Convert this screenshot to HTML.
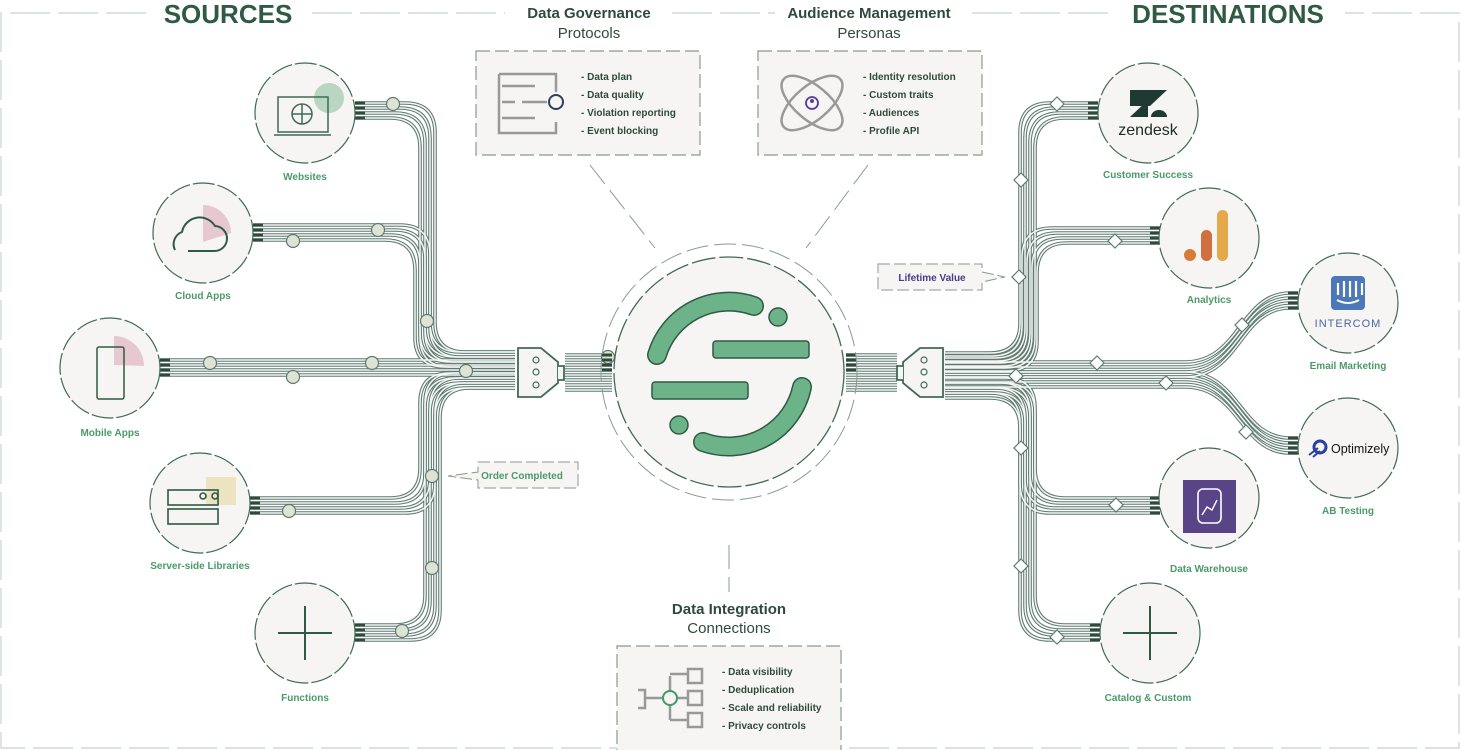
<!DOCTYPE html>
<html><head><meta charset="utf-8"><style>
body{margin:0;background:#fff;width:1461px;height:750px;overflow:hidden;font-family:"Liberation Sans",sans-serif}
svg{display:block}
.lbl{font:bold 10px "Liberation Sans",sans-serif;fill:#4a9a6a;text-anchor:middle}
.li{font:bold 10px "Liberation Sans",sans-serif;fill:#2f4a3a}
.ttl{font:bold 15px "Liberation Sans",sans-serif;fill:#2f4a3a;text-anchor:middle}
.sub{font:15px "Liberation Sans",sans-serif;fill:#2f4a3a;text-anchor:middle}
.big{font:bold 26px "Liberation Sans",sans-serif;fill:#2f5a43;text-anchor:middle}
.nd{fill:#f6f5f3;stroke:#3f6a55;stroke-width:1.2;stroke-dasharray:22 3}
</style></head><body>
<svg id="s" width="1461" height="750" viewBox="0 0 1461 750">
<g fill="none" stroke="#c8d2cc" stroke-width="1.2" stroke-dasharray="40 8">
<path d="M146,13 H1 V748 H1459 V13 H1345"/>
<path d="M312,13 H505"/><path d="M672,13 H775"/><path d="M972,13 H1113"/>
</g>
<text class="big" x="228" y="23">SOURCES</text>
<text class="big" x="1228" y="23">DESTINATIONS</text>
<text class="ttl" x="589" y="18">Data Governance</text><text class="sub" x="589" y="38">Protocols</text>
<text class="ttl" x="869" y="18">Audience Management</text><text class="sub" x="869" y="38">Personas</text>
<text class="ttl" x="729" y="614">Data Integration</text><text class="sub" x="729" y="633">Connections</text>
<g fill="#f6f5f3" stroke="#8a9a90" stroke-width="1.2" stroke-dasharray="14 5">
<rect x="476" y="51" width="224" height="104"/>
<rect x="758" y="51" width="224" height="104"/>
<rect x="617" y="646" width="224" height="110"/>
</g>
<g fill="none" stroke="#8a9a90" stroke-width="1" stroke-dasharray="24 8">
<path d="M590,165 L655,248"/><path d="M868,165 L806,248"/><path d="M729,545 V592"/>
</g>
<g fill="none" stroke="#999" stroke-width="2.5">
<path d="M499,74 V133 H556 V122 M499,74 H556 V92"/><path d="M502,86 H535 M502,102 H515 M522,102 H547 M502,118 H535"/>
</g><circle cx="556" cy="102" r="7" fill="none" stroke="#2e3e5e" stroke-width="2"/>
<text class="li" x="581" y="80">- Data plan</text><text class="li" x="581" y="98">- Data quality</text><text class="li" x="581" y="116">- Violation reporting</text><text class="li" x="581" y="134">- Event blocking</text>
<g fill="none" stroke="#999" stroke-width="2.5"><ellipse cx="812" cy="103" rx="37" ry="17" transform="rotate(40 812 103)"/><ellipse cx="812" cy="103" rx="37" ry="17" transform="rotate(-40 812 103)"/></g>
<circle cx="812" cy="103" r="6" fill="none" stroke="#5a3a9a" stroke-width="1.8"/><circle cx="812" cy="101" r="2" fill="#5a3a9a"/>
<text class="li" x="863" y="80">- Identity resolution</text><text class="li" x="863" y="98">- Custom traits</text><text class="li" x="863" y="116">- Audiences</text><text class="li" x="863" y="134">- Profile API</text>
<g fill="none" stroke="#999" stroke-width="2.5"><path d="M638,690 H645 V708 H638 M645,698 H662 M677,698 H687 M670,676 V720 M670,674 H687 M670,720 H687"/><rect x="688" y="669" width="14" height="14"/><rect x="688" y="691" width="14" height="14"/><rect x="688" y="713" width="14" height="14"/></g>
<circle cx="670" cy="698" r="7" fill="#f6f5f3" stroke="#3f9a6a" stroke-width="2"/>
<text class="li" x="722" y="675">- Data visibility</text><text class="li" x="722" y="693">- Deduplication</text><text class="li" x="722" y="711">- Scale and reliability</text><text class="li" x="722" y="729">- Privacy controls</text>
<g id="wires"></g>
<g id="marks"></g>
<g fill="#f6f5f3" stroke="#3f6a55" stroke-width="1.8">
<path d="M518,348 H541 L558,362 V383 L541,397 H518 Z"/><path d="M558,366 H564 V380 H558"/>
<path d="M943,348 H920 L903,362 V383 L920,397 H943 Z"/><path d="M903,366 H897 V380 H903"/>
</g>
<g fill="none" stroke="#3f6a55" stroke-width="1.2"><circle cx="536" cy="360" r="3"/><circle cx="536" cy="372" r="3"/><circle cx="536" cy="385" r="3"/><circle cx="924" cy="360" r="3"/><circle cx="924" cy="372" r="3"/><circle cx="924" cy="385" r="3"/></g>
<circle cx="729" cy="372" r="128" fill="none" stroke="#8a9a90" stroke-width="1" stroke-dasharray="22 6"/>
<circle cx="729" cy="372" r="115" fill="#f6f5f3" stroke="#3f6a55" stroke-width="1.3" stroke-dasharray="24 4"/>
<g fill="none" stroke-linecap="round">
<path d="M657,355 A75,75 0 0 1 754,306" stroke="#2f5a43" stroke-width="20"/>
<path d="M657,355 A75,75 0 0 1 754,306" stroke="#6cb38a" stroke-width="17"/>
<path d="M802,387 A75,75 0 0 1 703,442" stroke="#2f5a43" stroke-width="20"/>
<path d="M802,387 A75,75 0 0 1 703,442" stroke="#6cb38a" stroke-width="17"/>
</g>
<g fill="#6cb38a" stroke="#2f5a43" stroke-width="1.5"><rect x="713" y="341" width="96" height="17" rx="3"/><rect x="652" y="382" width="96" height="17" rx="3"/><circle cx="778" cy="317" r="9"/><circle cx="679" cy="425" r="9"/></g>
<path d="M478,462 H578 V488 H478 V480 L448,476 L478,472 Z" fill="#f6f5f3" stroke="#8a9a90" stroke-dasharray="12 4"/>
<text x="522" y="479" style="font:bold 10px 'Liberation Sans',sans-serif;fill:#4a9a6a" text-anchor="middle">Order Completed</text>
<path d="M878,264 H982 V272 L1005,277 L982,282 V290 H878 Z" fill="#f6f5f3" stroke="#8a9a90" stroke-dasharray="12 4"/>
<text x="932" y="281" style="font:bold 10px 'Liberation Sans',sans-serif;fill:#4a3a8a" text-anchor="middle">Lifetime Value</text>
<circle class="nd" cx="305" cy="113" r="50"/><circle class="nd" cx="203" cy="233" r="50"/><circle class="nd" cx="110" cy="368" r="50"/><circle class="nd" cx="200" cy="503" r="50"/><circle class="nd" cx="305" cy="633" r="50"/>
<circle cx="329" cy="98" r="15" fill="#b9d6c2"/>
<g fill="none" stroke="#3f6a55" stroke-width="1.5"><rect x="278" y="97" width="50" height="35"/><path d="M274,135 H331"/><circle cx="302" cy="114" r="10"/><path d="M292,114 H312 M302,104 V124"/></g>
<path d="M203,242 L203,205 A28,28 0 0 1 231,233 Z" fill="#e8c8d0"/>
<path d="M175,250 A13,13 0 0 1 182,232 A18,18 0 0 1 215,226 A12,12 0 0 1 214,251 H188" fill="none" stroke="#2f5a43" stroke-width="2"/>
<path d="M114,365 L114,336 A30,30 0 0 1 144,366 Z" fill="#e8c8d0"/>
<rect x="97" y="347" width="27" height="52" rx="2" fill="none" stroke="#2f5a43" stroke-width="1.5"/>
<rect x="206" y="477" width="30" height="28" fill="#ede3c0"/>
<g fill="none" stroke="#2f5a43" stroke-width="1.6"><rect x="168" y="490" width="50" height="15"/><rect x="168" y="509" width="50" height="15"/><circle cx="203" cy="496" r="3"/><circle cx="215" cy="496" r="3"/></g>
<text class="lbl" x="305" y="180">Websites</text><text class="lbl" x="203" y="299">Cloud Apps</text><text class="lbl" x="110" y="436">Mobile Apps</text><text class="lbl" x="200" y="569">Server-side Libraries</text><text class="lbl" x="305" y="701">Functions</text>
<circle class="nd" cx="1148" cy="113" r="50"/><circle class="nd" cx="1209" cy="238" r="50"/><circle class="nd" cx="1348" cy="303" r="50"/><circle class="nd" cx="1348" cy="448" r="50"/><circle class="nd" cx="1209" cy="498" r="50"/><circle class="nd" cx="1150" cy="633" r="50"/>
<g stroke="#2f5a43" stroke-width="2"><path d="M278,633 H332 M305,606 V660"/><path d="M1123,633 H1177 M1150,606 V660"/></g>
<path d="M1130,90 H1167 L1150,106 H1130 Z M1130,117 L1148,100 V117 Z M1151,117 A8,7 0 0 1 1167,117 Z" fill="#1f3a32"/>
<text x="1148" y="135" text-anchor="middle" style="font:16px 'Liberation Sans',sans-serif;fill:#1f2a28">zendesk</text>
<circle cx="1190" cy="255" r="6" fill="#d87a38"/><rect x="1201" y="230" width="11" height="31" rx="5.5" fill="#d07040"/><rect x="1217" y="210" width="11" height="51" rx="5.5" fill="#e5a84a"/>
<rect x="1331" y="276" width="34" height="34" rx="4" fill="#4a78b8"/><g stroke="#fff" stroke-width="2.2"><path d="M1338,283 V295 M1344,281 V297 M1350,281 V297 M1356,281 V297 M1362,283 V295"/></g><path d="M1337,300 Q1348,306 1359,300" stroke="#fff" stroke-width="2" fill="none"/>
<text x="1348" y="327" text-anchor="middle" style="font:11px 'Liberation Sans',sans-serif;fill:#4a68a0;letter-spacing:1px">INTERCOM</text>
<circle cx="1320" cy="447" r="6" fill="none" stroke="#2a40a0" stroke-width="3"/><path d="M1309,455 L1318,448 M1313,457 L1320,451" stroke="#2a40a0" stroke-width="2"/>
<text x="1331" y="453" style="font:12.5px 'Liberation Sans',sans-serif;fill:#111">Optimizely</text>
<rect x="1183" y="480" width="53" height="53" fill="#5a4488"/><rect x="1198" y="489" width="23" height="34" rx="5" fill="none" stroke="#fff" stroke-width="1.6"/><path d="M1202,515 L1207,507 L1212,510 L1217,500" stroke="#fff" stroke-width="1.4" fill="none"/>
<text class="lbl" x="1148" y="178">Customer Success</text><text class="lbl" x="1209" y="303">Analytics</text><text class="lbl" x="1348" y="369">Email Marketing</text><text class="lbl" x="1348" y="514">AB Testing</text><text class="lbl" x="1209" y="572">Data Warehouse</text><text class="lbl" x="1148" y="701">Catalog &amp; Custom</text>
</svg>
<script>
function rp(p,r){var d="M"+p[0][0]+","+p[0][1];for(var i=1;i<p.length-1;i++){var a=p[i-1],b=p[i],c=p[i+1];
var l1=Math.hypot(b[0]-a[0],b[1]-a[1]),l2=Math.hypot(c[0]-b[0],c[1]-b[1]);var rr=Math.min(r,l1/2,l2/2);
d+=" L"+(b[0]-(b[0]-a[0])/l1*rr)+","+(b[1]-(b[1]-a[1])/l1*rr)+" Q"+b[0]+","+b[1]+" "+(b[0]+(c[0]-b[0])/l2*rr)+","+(b[1]+(c[1]-b[1])/l2*rr);}
var e=p[p.length-1];return d+" L"+e[0]+","+e[1];}
var P=[];
for(var i=0;i<4;i++){var o=5*i;
P.push(rp([[355,103+o],[435-o,103+o],[435-o,352+o],[515,352+o]],30));
P.push(rp([[253,225+o],[430-o,225+o],[430-o,352+o],[515,352+o]],30));
P.push("M160,"+(360+o)+" H515");
P.push(rp([[250,498+o],[420+o,498+o],[420+o,373+o],[515,373+o]],30));
P.push(rp([[355,625+o],[425+o,625+o],[425+o,373+o],[515,373+o]],30));
P.push("M565,"+(355+o)+" H612");P.push("M565,"+(375+o)+" H612");
P.push("M846,"+(355+o)+" H897");P.push("M846,"+(375+o)+" H897");
P.push(rp([[945,353+o],[1020+o,353+o],[1020+o,103+o],[1098,103+o]],30));
P.push(rp([[945,356+o],[1022+o,356+o],[1022+o,228+o],[1160,228+o]],30));
P.push("M945,"+(362+o)+" H1185 C1240,"+(362+o)+" 1240,"+(293+o)+" 1290,"+(293+o)+" H1298");
P.push("M945,"+(372+o)+" H1185 C1240,"+(372+o)+" 1240,"+(438+o)+" 1290,"+(438+o)+" H1298");
P.push(rp([[945,378+o],[1035-o,378+o],[1035-o,498+o],[1160,498+o]],30));
P.push(rp([[945,383+o],[1035-o,383+o],[1035-o,625+o],[1100,625+o]],30));
}
var h="";P.forEach(function(d){h+='<path d="'+d+'" fill="none" stroke="#5d7b72" stroke-width="3.6"/>';});
P.forEach(function(d){h+='<path d="'+d+'" fill="none" stroke="#f6f5f3" stroke-width="1.5"/>';});
document.getElementById("wires").innerHTML=h;
var m="";
[[393,104],[378,230],[293,241],[210,363],[372,363],[293,377],[466,371],[427,321],[432,476],[432,568],[289,511],[402,631],[608,357]].forEach(function(c){m+='<circle cx="'+c[0]+'" cy="'+c[1]+'" r="6.5" fill="#dfe3d3" stroke="#5d7b72" stroke-width="1.2"/>';});
[[1057,104],[1021,180],[1019,277],[1115,241],[1242,325],[1097,363],[1016,376],[1166,383],[1246,432],[1021,448],[1116,505],[1021,566],[1057,637]].forEach(function(c){m+='<rect x="'+(c[0]-5)+'" y="'+(c[1]-5)+'" width="10" height="10" fill="#fff" stroke="#5d7b72" stroke-width="1.2" transform="rotate(45 '+c[0]+' '+c[1]+')"/>';});
[[355,103],[253,225],[160,360],[250,498],[355,625]].forEach(function(c){for(var i=0;i<4;i++)m+='<rect x="'+c[0]+'" y="'+(c[1]+5*i-1.5)+'" width="10" height="3" fill="#2f4a3a"/>';});
[[1088,103],[1150,228],[1288,293],[1288,438],[1150,498],[1090,625],[602,355],[846,355]].forEach(function(c){for(var i=0;i<4;i++)m+='<rect x="'+c[0]+'" y="'+(c[1]+5*i-1.5)+'" width="10" height="3" fill="#2f4a3a"/>';});
document.getElementById("marks").innerHTML=m;
</script>
</body></html>
